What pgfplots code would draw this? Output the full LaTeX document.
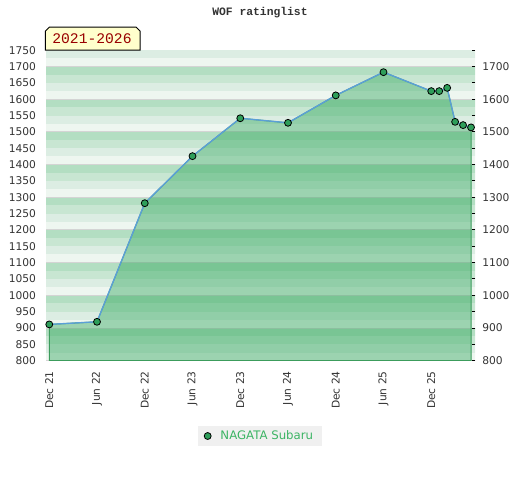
\documentclass[border=0pt]{standalone}
\usepackage{pgfplots}
\pgfplotsset{compat=1.18}
\usepackage{fontspec}
\setmainfont{DejaVu Sans}
\newfontfamily\monofont{Liberation Mono}
\definecolor{stA}{HTML}{B3DEC2}
\definecolor{stB}{HTML}{C8E6D2}
\definecolor{stC}{HTML}{DCEDE3}
\definecolor{stD}{HTML}{EEF6F0}
\definecolor{gridgray}{HTML}{D4D4D4}
\definecolor{fillgreen}{RGB}{34,160,81}
\definecolor{edgegreen}{HTML}{3C9C5C}
\definecolor{markgreen}{HTML}{2E9E5A}
\definecolor{lineblue}{HTML}{5B9FD8}
\definecolor{ticktext}{HTML}{333333}
\definecolor{legtext}{HTML}{3CB464}
\definecolor{legfill}{HTML}{F0F0F0}
\definecolor{boxfill}{HTML}{FFFFCC}
\definecolor{boxtext}{HTML}{990000}
\begin{document}
\begin{tikzpicture}
\path[use as bounding box] (0,0) rectangle (390pt,360pt);
\begin{axis}[
  at={(34.5pt,89.5pt)}, anchor=south west,
  scale only axis, width=321.75pt, height=232.8pt,
  xmin=-0.41, xmax=53.5, ymin=800, ymax=1750,
  axis lines*=left,
  axis line style={draw=gridgray, line width=0.75pt, -},
  ytick={800,850,...,1750},
  xtick={0,6,...,48},
  xticklabels={Dec 21,Jun 22,Dec 22,Jun 23,Dec 23,Jun 24,Dec 24,Jun 25,Dec 25},
  major tick length=0pt,
  tick style={draw=none},
  tick label style={font=\fontsize{8}{9.6}\selectfont, text=ticktext},
  xticklabel style={rotate=90, anchor=east, xshift=-4.5pt},
  yticklabel style={xshift=-4pt},
  /pgf/number format/assume math mode=true,
  /pgf/number format/1000 sep={},
  legend style={at={(0.4988,-0.2427)}, anchor=center, fill=legfill, draw=none,
    font=\fontsize{8.8}{10}\selectfont, text=legtext, inner xsep=5pt, inner ysep=1.5pt,
    /tikz/every odd column/.append style={column sep=5pt}},
  legend cell align=left,
]
\pgfplotsinvokeforeach{900,1000,...,1800}{
  \fill[stA] (axis cs:-5,#1-25) rectangle (axis cs:60,#1);
  \fill[stB] (axis cs:-5,#1-50) rectangle (axis cs:60,#1-25);
  \fill[stC] (axis cs:-5,#1-75) rectangle (axis cs:60,#1-50);
  \fill[stD] (axis cs:-5,#1-100) rectangle (axis cs:60,#1-75);
  \draw[gridgray, line width=0.75pt] (axis cs:-5,#1-100) -- (axis cs:60,#1-100);
}
\addplot[draw=edgegreen, line width=0.75pt, fill=fillgreen, fill opacity=0.4, forget plot]
  coordinates {(0,911) (6,919) (12,1282) (18,1426) (24,1542) (30,1528) (36,1612)
   (42,1683) (48,1625) (49,1625) (50,1635) (51,1531) (52,1521) (53,1514)} \closedcycle;
\addplot[draw=lineblue, line width=1pt, mark=*, mark size=2.6pt,
  mark options={fill=markgreen, draw=black, line width=0.6pt}, forget plot]
  coordinates {(0,911) (6,919) (12,1282) (18,1426) (24,1542) (30,1528) (36,1612)
   (42,1683) (48,1625) (49,1625) (50,1635) (51,1531) (52,1521) (53,1514)};
\addlegendimage{only marks, mark=*, mark size=2.6pt, mark options={fill=markgreen, draw=black, line width=0.6pt}}
\addlegendentry{NAGATA Subaru}
\end{axis}
\begin{axis}[
  at={(34.5pt,89.5pt)}, anchor=south west,
  scale only axis, width=321.75pt, height=232.8pt,
  xmin=-0.41, xmax=53.5, ymin=800, ymax=1750,
  axis x line=none, axis y line*=right,
  y axis line style={draw=none},
  ytick={800,900,...,1700},
  minor ytick={850,950,...,1750},
  tick align=inside, major tick length=2.5pt, minor tick length=2.5pt,
  tick style={black, line width=0.75pt},
  yticklabel style={font=\fontsize{8}{9.6}\selectfont, text=ticktext, xshift=2pt},
  /pgf/number format/assume math mode=true,
  /pgf/number format/1000 sep={},
]
\end{axis}
\node[font=\monofont\bfseries\fontsize{8.5}{10}\selectfont, text=black!80] at (195pt,350.25pt) {WOF ratinglist};
\draw[fill=boxfill, draw=black, line width=0.75pt] (34.1pt,322.5pt) -- (34.1pt,336.75pt) -- (37.1pt,339.75pt)
  -- (102pt,339.75pt) -- (105pt,336.75pt) -- (105pt,322.5pt) -- cycle;
\node[font=\monofont\fontsize{11}{12}\selectfont, text=boxtext] at (69pt,330.9pt) {2021-2026};
\end{tikzpicture}
\end{document}
